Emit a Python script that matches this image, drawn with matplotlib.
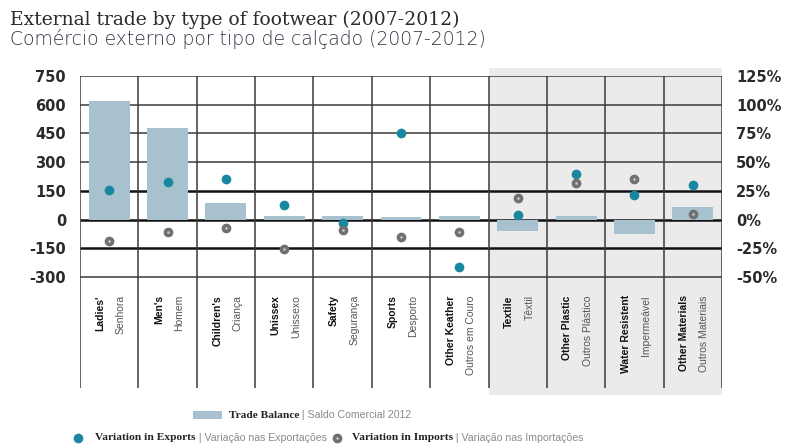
import matplotlib
matplotlib.use("Agg")
import matplotlib.pyplot as plt
from matplotlib.patches import Rectangle
from matplotlib.lines import Line2D
import numpy as np

# data
labels_en = ["Ladies'", "Men's", "Children's", "Unissex", "Safety", "Sports",
             "Other Keather", "Textile", "Other Plastic", "Water Resistent",
             "Other Materials"]
labels_pt = ["Senhora", "Homem", "Criança", "Unissexo", "Segurança", "Desporto",
             "Outros em Couro", "Têxtil", "Outros Plástico", "Impermeável",
             "Outros Materiais"]
trade_balance = [620, 478, 85, 20, 20, 15, 20, -60, 20, -75, 65]
var_exports = [26, 33, 35, 13, -3, 75, -41, 4, 40, 21, 30]
var_imports = [-19, -11, -7, -26, -9, -15, -11, 19, 32, 35, 5]

left_ticks = list(range(-300, 751, 150))
right_ticks = list(range(-50, 126, 25))

BAR = "#a7c1cf"
TEAL = "#1a87a0"
GRAY = "#707070"
SHADE = "#ebebeb"
LINE = "#3a3a3a"

NARROW = ["Liberation Sans Narrow", "Liberation Sans", "DejaVu Sans"]

fig = plt.figure(figsize=(7.89, 4.46), dpi=100)
ax = fig.add_axes([80 / 789, 1 - 388 / 446, 642 / 789, 312 / 446])
ax2 = ax.twinx()

y_lo, y_hi = -880, 750
ax.set_xlim(-0.5, len(labels_en) - 0.5)
ax.set_ylim(y_lo, y_hi)
ax2.set_ylim(y_lo / 6, y_hi / 6)

for a in (ax, ax2):
    for s in a.spines.values():
        s.set_visible(False)
    a.set_xticks([])

# shaded band for material types
ax.add_patch(Rectangle((6.5, y_lo - 37), 4.0, (y_hi + 42) - (y_lo - 37),
                       facecolor=SHADE, edgecolor="none", zorder=0, clip_on=False))

# grid
for t in left_ticks:
    bold = t in (-150, 0, 150)
    ax.hlines(t, -0.5, len(labels_en) - 0.5, color="#111" if bold else LINE,
              lw=1.8 if bold else 1.1, zorder=1)
for xv in np.arange(-0.5, len(labels_en), 1.0):
    ax.axvline(xv, color=LINE, lw=1.1, zorder=1)

x = np.arange(len(labels_en))
ax.bar(x, trade_balance, width=0.7, color=BAR, zorder=2)

ax2.plot(x, var_exports, "o", color=TEAL, ms=7, mec="none", zorder=3)
ax2.plot(x, var_imports, "o", color=GRAY, ms=7, mec="none", zorder=3)
ax2.plot(x, var_imports, "o", color="#cfcfcf", ms=1.8, mec="none", zorder=4)

ax.set_yticks(left_ticks)
ax.set_yticklabels([str(t) for t in left_ticks])
ax2.set_yticks(right_ticks)
ax2.set_yticklabels([f"{t}%" for t in right_ticks])
for a in (ax, ax2):
    a.tick_params(axis="y", length=0, pad=10, labelsize=10.5, labelcolor="#2a2a2a")
    for lab in a.get_yticklabels():
        lab.set_fontweight("bold")

# category labels (rotated, two languages)
for i, (en, pt) in enumerate(zip(labels_en, labels_pt)):
    ax.text(i - 0.15, -395, en, rotation=90, ha="center", va="top",
            fontsize=7.5, fontweight="bold", family=NARROW, color="#111")
    ax.text(i + 0.2, -395, pt, rotation=90, ha="center", va="top",
            fontsize=7.5, family=NARROW, color="#555")

# titles
fig.text(10 / 789, 1 - 25 / 446, "External trade by type of footwear (2007-2012)",
         family="DejaVu Serif", fontsize=13.5, color="#2b2b2b", va="baseline")
fig.text(10 / 789, 1 - 45 / 446, "Comércio externo por tipo de calçado (2007-2012)",
         family="DejaVu Sans", fontweight="light", fontsize=13.5, color="#3a3145",
         va="baseline")


def legend_item(xpix, ypix, bold, light):
    t1 = fig.text(xpix / 789, 1 - ypix / 446, bold, family="Liberation Serif",
                  fontweight="bold", fontsize=8.2, color="#222", va="center")
    ax.annotate(" | " + light, xy=(1, 0.5), xycoords=t1, va="center",
                family=NARROW, fontsize=7.6, color="#8a8a8a", annotation_clip=False)


fig.patches.append(Rectangle((193 / 789, 1 - 419 / 446), 29 / 789, 8 / 446,
                             facecolor=BAR, edgecolor="none",
                             transform=fig.transFigure, figure=fig))
legend_item(229, 415, "Trade Balance", "Saldo Comercial 2012")

fig.lines.append(Line2D([78 / 789], [1 - 438 / 446], marker="o", ms=7, color=TEAL,
                        mec="none", transform=fig.transFigure, figure=fig))
legend_item(95, 438, "Variation in Exports", "Variação nas Exportações")
fig.lines.append(Line2D([337 / 789], [1 - 438 / 446], marker="o", ms=7, color=GRAY,
                        mec="none", transform=fig.transFigure, figure=fig))
fig.lines.append(Line2D([337 / 789], [1 - 438 / 446], marker="o", ms=1.8, color="#cfcfcf",
                        mec="none", transform=fig.transFigure, figure=fig))
legend_item(352, 438, "Variation in Imports", "Variação nas Importações")

fig.savefig("out.png", dpi=100)
